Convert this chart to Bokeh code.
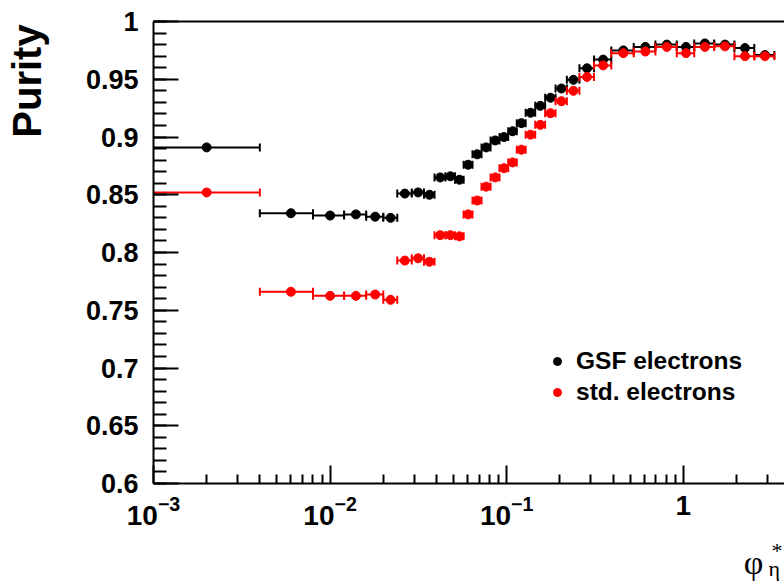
import math
from bokeh.plotting import figure
from bokeh.models import (Range1d, FixedTicker, LogAxis, Label, Legend,
                          LegendItem, LogTickFormatter)
from bokeh.embed import file_html
from bokeh.resources import INLINE

# ---------------- data ----------------
bin_edges = [0.0, 0.004, 0.008, 0.012, 0.016, 0.020, 0.024, 0.029, 0.034,
             0.039, 0.045, 0.051, 0.057, 0.064, 0.072, 0.081, 0.091, 0.102,
             0.114, 0.128, 0.145, 0.165, 0.189, 0.219, 0.258, 0.312, 0.391,
             0.524, 0.695, 0.918, 1.153, 1.496, 1.947, 2.522, 3.277]

gsf_purity = [0.891, 0.834, 0.832, 0.833, 0.831, 0.830, 0.851, 0.852, 0.850,
              0.865, 0.866, 0.863, 0.876, 0.885, 0.891, 0.897, 0.900, 0.905,
              0.912, 0.921, 0.927, 0.934, 0.942, 0.9495, 0.9595, 0.967, 0.975,
              0.978, 0.980, 0.978, 0.981, 0.980, 0.977, 0.971]

std_purity = [0.852, 0.766, 0.7625, 0.7625, 0.7636, 0.759, 0.793, 0.795, 0.792,
              0.815, 0.815, 0.814, 0.833, 0.845, 0.857, 0.865, 0.873, 0.878,
              0.889, 0.902, 0.9105, 0.9206, 0.931, 0.940, 0.952, 0.962, 0.9726,
              0.974, 0.978, 0.9726, 0.978, 0.9785, 0.970, 0.970]

series_names = ["GSF electrons", "std. electrons"]
x_major_ticks = [0.001, 0.01, 0.1, 1.0]
y_ticks = [0.6, 0.65, 0.7, 0.75, 0.8, 0.85, 0.9, 0.95, 1.0]
y_tick_labels = ["0.6", "0.65", "0.7", "0.75", "0.8", "0.85", "0.9", "0.95", "1"]
y_axis_title = "Purity"
x_title_main, x_title_sup, x_title_sub = "φ", "*", "η"

# ---------------- figure ----------------
W, H = 784, 587
FL, FR, FT, FB = 153, 784, 21, 483          # frame edges in canvas pixels
X0, X1 = 1e-3, 3.74
Y0, Y1 = 0.6, 1.0

p = figure(width=W, height=H, x_axis_type="log",
           x_range=Range1d(X0, X1), y_range=Range1d(Y0, Y1),
           output_backend="svg", toolbar_location=None,
           min_border_left=FL, min_border_right=W - FR,
           min_border_top=FT, min_border_bottom=H - FB)
p.outline_line_color = None
p.xgrid.visible = False
p.ygrid.visible = False
p.background_fill_color = "white"
p.border_fill_color = "white"

FONT = "Liberation Sans"
SERIF = "Liberation Serif"


def xd(px):
    lx0, lx1 = math.log10(X0), math.log10(X1)
    return 10 ** (lx0 + (px - FL) / (FR - FL) * (lx1 - lx0))


def yd(py):
    return Y1 - (py - FT) / (FB - FT) * (Y1 - Y0)


# x axis
xa = p.xaxis[0]
x_minor = [m * 10.0 ** e for e in range(-3, 1) for m in range(2, 10)]
xa.ticker = FixedTicker(ticks=x_major_ticks, minor_ticks=x_minor)
xa.formatter = LogTickFormatter(min_exponent=1)
xa.axis_line_width = 2
xa.major_tick_line_width = 2
xa.minor_tick_line_width = 2
xa.major_tick_in = 18
xa.major_tick_out = 0
xa.minor_tick_in = 9
xa.minor_tick_out = 0
xa.major_label_standoff = 12
xa.major_label_text_font = FONT
xa.major_label_text_font_style = "bold"
xa.major_label_text_font_size = "28px"
xa.major_label_text_color = "black"

# y axis
ya = p.yaxis[0]
y_minor = [round(0.6 + 0.01 * i, 2) for i in range(41)]
ya.ticker = FixedTicker(ticks=y_ticks, minor_ticks=y_minor)
ya.major_label_overrides = dict(zip(y_ticks, y_tick_labels))
ya.axis_line_width = 2
ya.major_tick_line_width = 2
ya.minor_tick_line_width = 2
ya.major_tick_in = 25
ya.major_tick_out = 0
ya.minor_tick_in = 13
ya.minor_tick_out = 0
ya.major_label_standoff = 15
ya.major_label_text_font = FONT
ya.major_label_text_font_style = "bold"
ya.major_label_text_font_size = "27px"
ya.major_label_text_color = "black"

# top frame line
top = LogAxis(ticker=FixedTicker(ticks=[]), major_label_text_font_size="0px",
              axis_line_width=2, major_tick_line_color=None,
              minor_tick_line_color=None)
p.add_layout(top, "above")

# ---------------- data marks ----------------
lo = [e if e > 0 else X0 / 10 for e in bin_edges[:-1]]
hi = bin_edges[1:]
centers = [(a + b) / 2 for a, b in zip(bin_edges[:-1], bin_edges[1:])]

renderers = []
for vals, color in [(gsf_purity, "black"), (std_purity, "red")]:
    p.segment(x0=lo, y0=vals, x1=hi, y1=vals, line_color=color, line_width=2)
    p.scatter(x=lo, y=vals, marker="dash", angle=math.pi / 2, size=8,
              line_color=color, line_width=2)
    p.scatter(x=hi, y=vals, marker="dash", angle=math.pi / 2, size=8,
              line_color=color, line_width=2)
    r = p.scatter(x=centers, y=vals, marker="circle", size=9,
                  fill_color=color, line_color=color)
    renderers.append(r)

legend = Legend(items=[LegendItem(label=series_names[0], renderers=[renderers[0]]),
                       LegendItem(label=series_names[1], renderers=[renderers[1]])],
                location=(394, 77), orientation="vertical",
                border_line_color=None, background_fill_alpha=0,
                padding=0, margin=0, spacing=3,
                glyph_width=20, glyph_height=28, label_height=28,
                label_standoff=9,
                label_text_font=FONT, label_text_font_style="bold",
                label_text_font_size="24.5px", label_text_baseline="middle",
                label_text_color="black")
p.add_layout(legend)

# axis titles (in side panels so they are not clipped to the frame)
p.add_layout(Label(x=xd(26), y=yd(80.5), text=y_axis_title, angle=math.pi / 2,
                   text_align="center", text_baseline="middle",
                   text_font=FONT, text_font_style="bold",
                   text_font_size="40px", text_color="black"), "left")
p.add_layout(Label(x=xd(771), y=yd(550), text=x_title_sup,
                   text_align="left", text_baseline="middle",
                   text_font=SERIF, text_font_size="22px",
                   text_color="black"), "left")
p.add_layout(Label(x=xd(768), y=yd(567.5), text=x_title_sub,
                   text_align="left", text_baseline="middle",
                   text_font=SERIF, text_font_size="22px",
                   text_color="black"), "left")
p.add_layout(Label(x=xd(753), y=yd(561.5), text=x_title_main,
                   text_align="center", text_baseline="middle",
                   text_font=SERIF, text_font_size="34px",
                   text_color="black"), "below")

open("out.html", "w").write(file_html(p, INLINE))
